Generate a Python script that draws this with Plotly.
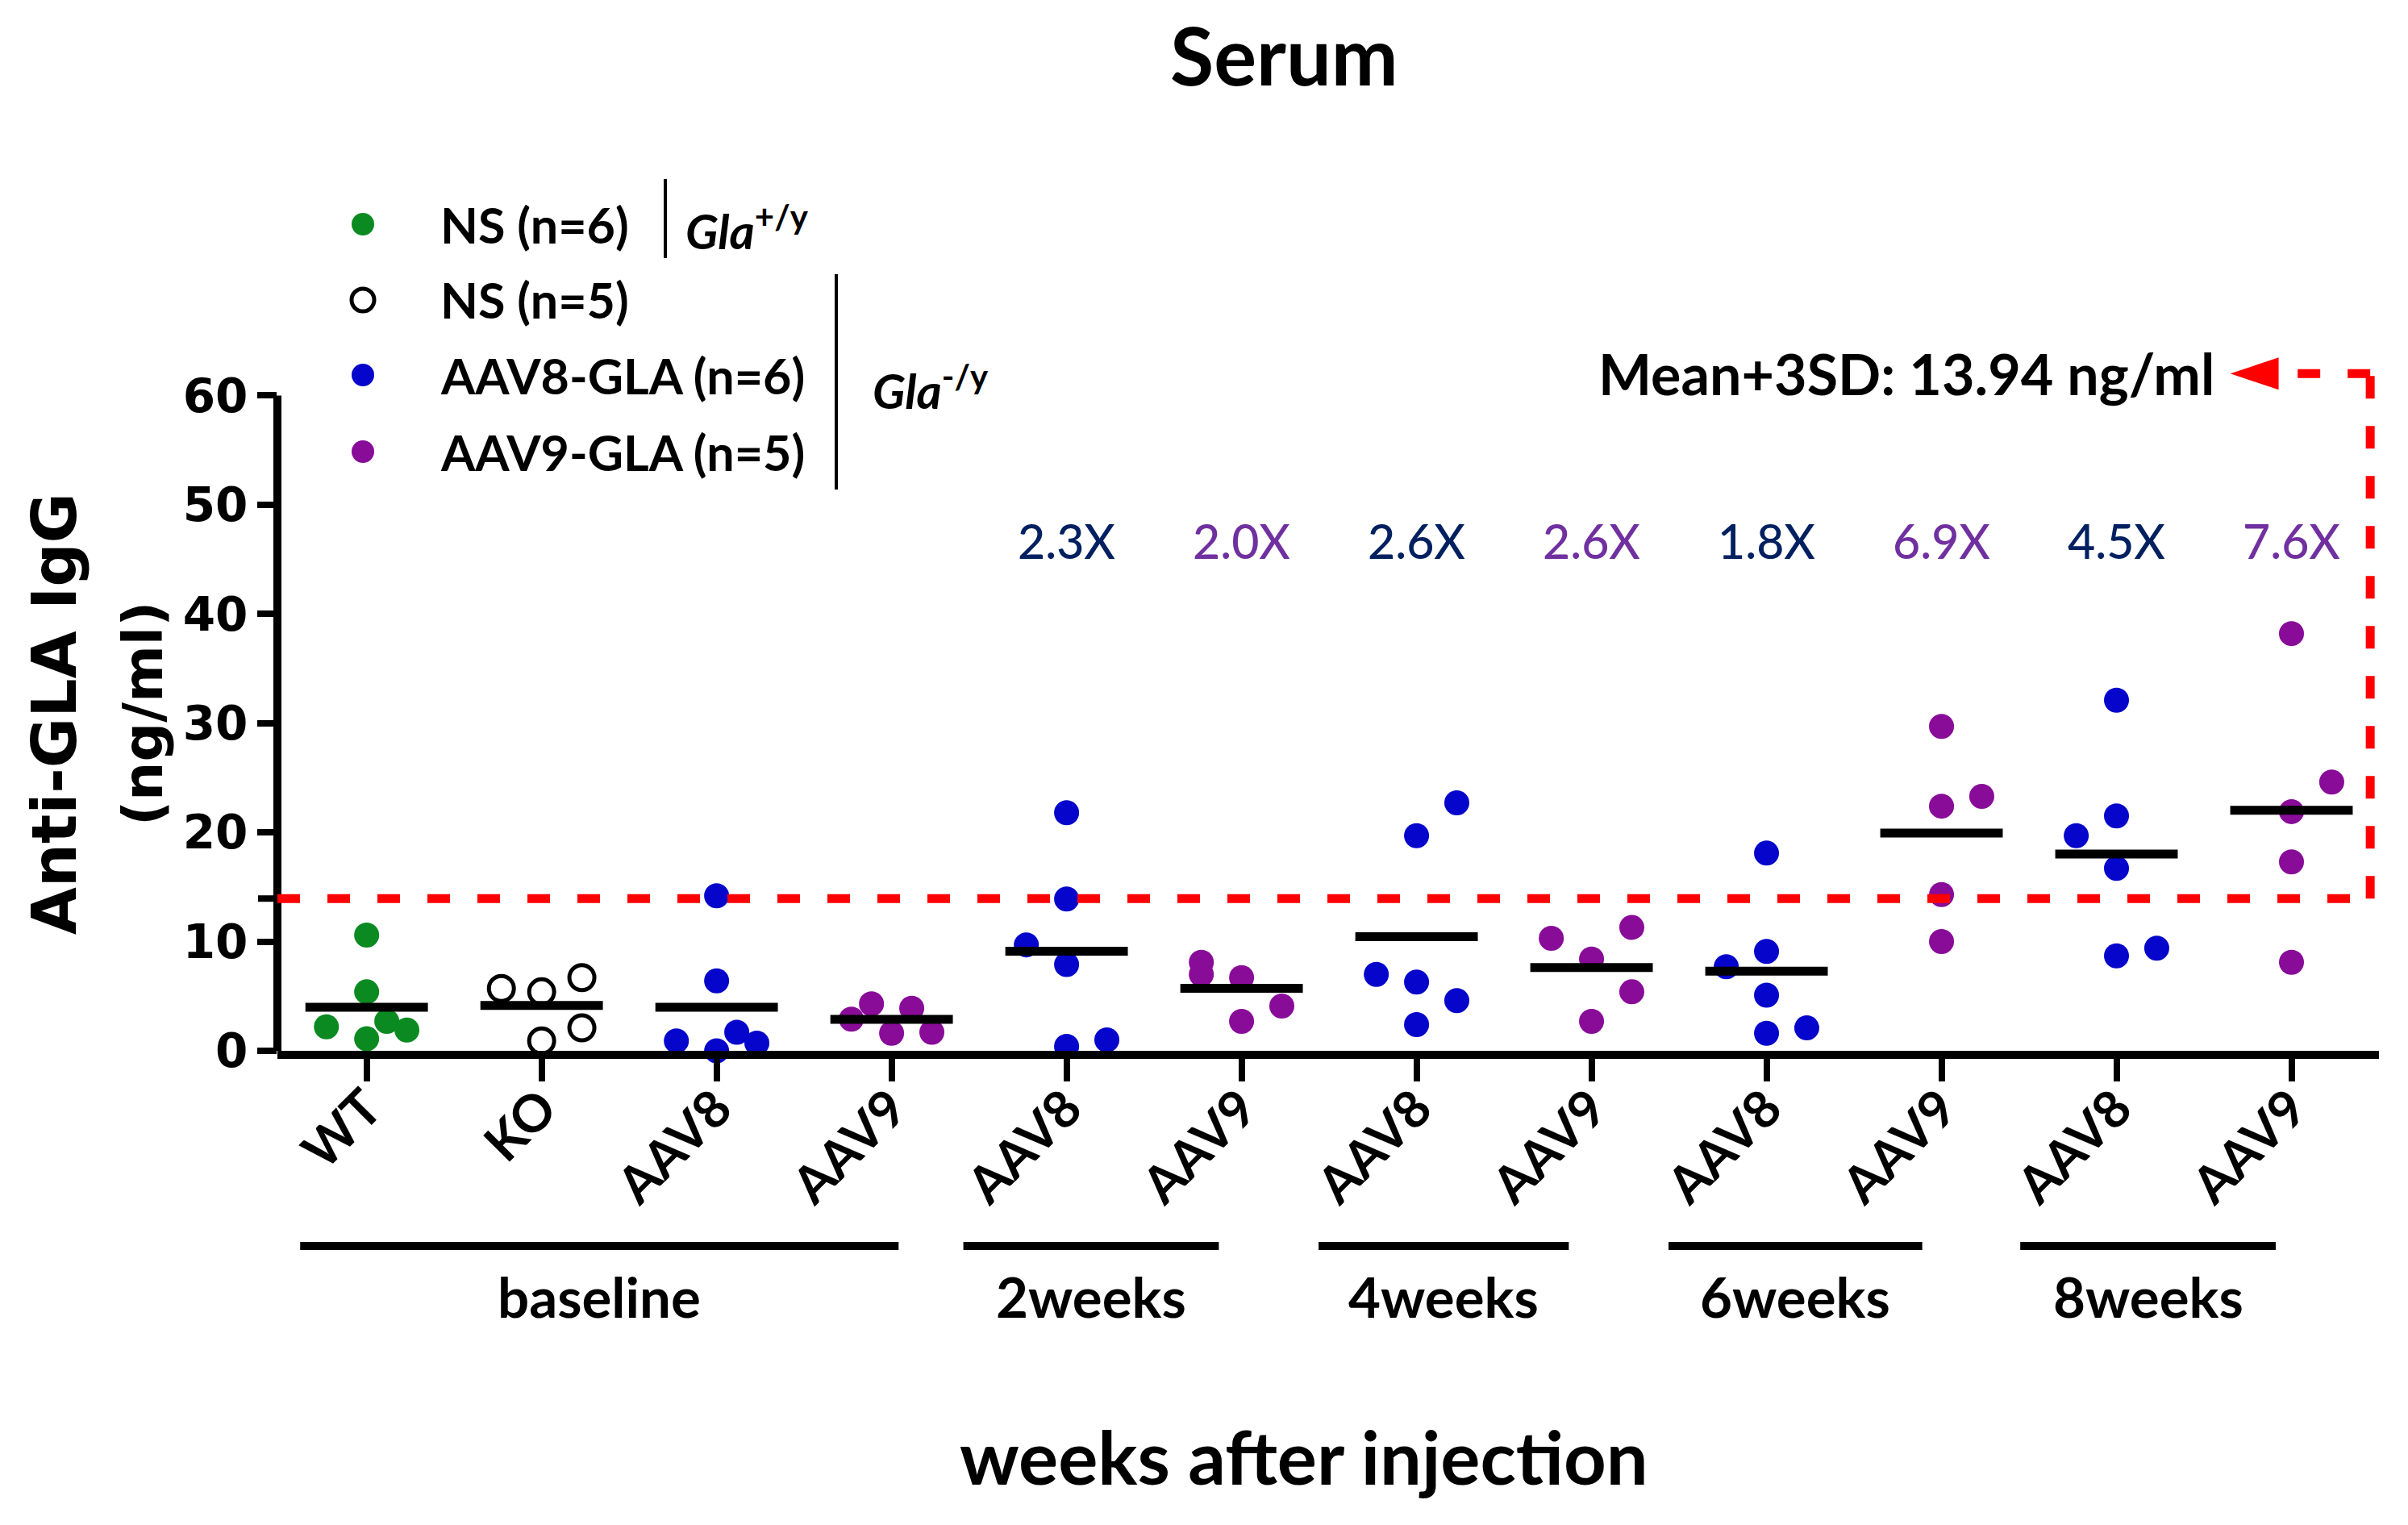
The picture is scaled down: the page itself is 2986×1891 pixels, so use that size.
import numpy as np
import plotly.graph_objects as go

# ---- data ----
categories = ["WT", "KO", "AAV8", "AAV9", "AAV8", "AAV9",
              "AAV8", "AAV9", "AAV8", "AAV9", "AAV8", "AAV9"]
groups = ["baseline", "2weeks", "4weeks", "6weeks", "8weeks"]

wt_ns = [10.6, 5.4, 2.2, 2.7, 1.9, 1.1]
ko_ns = [5.7, 5.4, 6.7, 2.1, 0.9]
aav8_base = [14.2, 6.4, 0.9, 0.0, 1.7, 0.7]
aav9_base = [2.9, 4.3, 1.6, 3.9, 1.7]
aav8_2wk = [21.8, 13.9, 9.7, 7.9, 0.4, 1.0]
aav9_2wk = [8.1, 7.0, 6.7, 2.7, 4.1]
aav8_4wk = [22.7, 19.7, 7.0, 6.3, 4.6, 2.4]
aav9_4wk = [10.3, 11.3, 8.4, 5.4, 2.7]
aav8_6wk = [18.1, 7.7, 9.1, 5.1, 1.6, 2.1]
aav9_6wk = [29.7, 22.4, 23.3, 14.3, 10.0]
aav8_8wk = [32.1, 21.5, 19.7, 16.7, 8.7, 9.4]
aav9_8wk = [38.2, 24.6, 21.9, 17.3, 8.1]

fold_labels = ["2.3X", "2.0X", "2.6X", "2.6X", "1.8X", "6.9X", "4.5X", "7.6X"]
threshold = 13.94

# horizontal scatter of dots inside a column (in dot widths)
wt_off = [0, 0, -1, 0.5, 1, 0]
ko_off = [-1, 0, 1, 1, 0]
aav8_base_off = [0, 0, -1, 0, 0.5, 1]
aav9_base_off = [-1, -0.5, 0, 0.5, 1]
aav8_2wk_off = [0, 0, -1, 0, 0, 1]
aav9_2wk_off = [-1, -1, 0, 0, 1]
aav8_4wk_off = [1, 0, -1, 0, 1, 0]
aav9_4wk_off = [-1, 1, 0, 1, 0]
aav8_6wk_off = [0, -1, 0, 0, 0, 1]
aav9_6wk_off = [0, 0, 1, 0, 0]
aav8_8wk_off = [0, 0, -1, 0, 0, 1]
aav9_8wk_off = [0, 1, 0, 0, 0]

# ---- layout helpers ----
W, H = 2986, 1891
PAGE = 8  # page body margin of the html
ML, MR, MT, MB = 344 - PAGE, 36 + PAGE, 443 - PAGE, 588 + PAGE
XR = [-0.51, 11.5]
YR = [0, 63.5]
DOT = 0.23


def px(x):
    return (x - PAGE - ML) / (W - ML - MR)


def py(y):
    return (H - MB - (y - PAGE)) / (H - MT - MB)


GREEN = "#0c8a22"
BLUE = "#0505cc"
PURPLE = "#880c98"
NAVY = "#002060"
LPURPLE = "#7030a0"
RED = "#ff0000"
TXT = "Lato"
BOLD = "DejaVu Sans"

columns = [
    (wt_ns, wt_off, "wt"), (ko_ns, ko_off, "ko"),
    (aav8_base, aav8_base_off, "aav8"), (aav9_base, aav9_base_off, "aav9"),
    (aav8_2wk, aav8_2wk_off, "aav8"), (aav9_2wk, aav9_2wk_off, "aav9"),
    (aav8_4wk, aav8_4wk_off, "aav8"), (aav9_4wk, aav9_4wk_off, "aav9"),
    (aav8_6wk, aav8_6wk_off, "aav8"), (aav9_6wk, aav9_6wk_off, "aav9"),
    (aav8_8wk, aav8_8wk_off, "aav8"), (aav9_8wk, aav9_8wk_off, "aav9"),
]

styles = {
    "wt": dict(name="NS (n=6) Gla+/y", color=GREEN, line=dict(width=0)),
    "ko": dict(name="NS (n=5) Gla-/y", color="white", line=dict(width=5, color="black")),
    "aav8": dict(name="AAV8-GLA (n=6)", color=BLUE, line=dict(width=0)),
    "aav9": dict(name="AAV9-GLA (n=5)", color=PURPLE, line=dict(width=0)),
}

fig = go.Figure()

for key in ["wt", "ko", "aav8", "aav9"]:
    xs, ys = [], []
    for i, (vals, offs, k) in enumerate(columns):
        if k != key:
            continue
        xs += [i + o * DOT for o in offs]
        ys += vals
    st = styles[key]
    fig.add_trace(go.Scatter(
        x=xs, y=ys, mode="markers", name=st["name"], showlegend=False,
        cliponaxis=False,
        marker=dict(size=31, color=st["color"], line=st["line"]),
    ))

# mean bars
mx, my = [], []
for i, (vals, offs, k) in enumerate(columns):
    m = float(np.mean(vals))
    mx += [i - 0.35, i + 0.35, None]
    my += [m, m, None]
fig.add_trace(go.Scatter(x=mx, y=my, mode="lines", showlegend=False,
                         line=dict(color="black", width=11)))

shapes = []
# y axis line (drawn up to 60 only) and the unlabeled tick at the threshold
shapes.append(dict(type="line", xref="paper", yref="y", x0=0, x1=0, y0=0, y1=60,
                   line=dict(color="black", width=10)))
shapes.append(dict(type="line", xref="paper", yref="y", xsizemode="pixel", xanchor=0,
                   x0=-24, x1=0, y0=threshold, y1=threshold,
                   line=dict(color="black", width=8)))
# Mean+3SD dashed line and its return path
dash = dict(color=RED, width=11, dash="28px,34px")
x_turn = 11.45
shapes.append(dict(type="line", xref="x", yref="y", x0=XR[0], x1=x_turn,
                   y0=threshold, y1=threshold, line=dash))
shapes.append(dict(type="line", xref="x", yref="y", x0=x_turn, x1=x_turn,
                   y0=threshold, y1=62.0, line=dash))
shapes.append(dict(type="line", xref="x", yref="y", x0=x_turn, x1=10.92,
                   y0=62.0, y1=62.0, line=dash))
shapes.append(dict(type="path", xref="x", yref="y", xsizemode="pixel", ysizemode="pixel",
                   xanchor=10.65, yanchor=62.0, path="M 0,0 L 60,-20 L 60,20 Z",
                   fillcolor=RED, line=dict(width=0)))

# group bars under the tick labels
group_spans = [(-0.38, 3.04), (3.41, 4.87), (5.44, 6.87), (7.44, 8.89), (9.45, 10.91)]
bar_y = py(1545)
for a, b in group_spans:
    shapes.append(dict(type="line", xref="x", yref="paper", x0=a, x1=b,
                       y0=bar_y, y1=bar_y, line=dict(color="black", width=10)))

# legend symbols and dividers
legend_rows = [278, 372, 465, 560]
legend_keys = ["wt", "ko", "aav8", "aav9"]
legend_text = ["NS (n=6)", "NS (n=5)", "AAV8-GLA (n=6)", "AAV9-GLA (n=5)"]
for row, key in zip(legend_rows, legend_keys):
    st = styles[key]
    shapes.append(dict(type="circle", xref="paper", yref="paper",
                       xsizemode="pixel", ysizemode="pixel",
                       xanchor=px(450), yanchor=py(row),
                       x0=-14, x1=14, y0=-14, y1=14,
                       fillcolor=st["color"],
                       line=dict(color="black", width=5) if key == "ko" else dict(width=0)))
shapes.append(dict(type="line", xref="paper", yref="paper", x0=px(825), x1=px(825),
                   y0=py(222), y1=py(320), line=dict(color="black", width=4)))
shapes.append(dict(type="line", xref="paper", yref="paper", x0=px(1037), x1=px(1037),
                   y0=py(340), y1=py(607), line=dict(color="black", width=4)))


def label(text, x, y, size, family=TXT, weight=700, color="black",
          xref="paper", yref="paper", xanchor="center", angle=0):
    return dict(text=text, xref=xref, yref=yref, x=x, y=y, xanchor=xanchor,
                yanchor="middle", textangle=angle, showarrow=False,
                font=dict(family=family, size=size, weight=weight, color=color))


ann = []
ann.append(label("Serum", px(1592), py(67), 99))
ann.append(label("Anti-GLA IgG", px(67), py(885), 76, family=BOLD, angle=-90))
ann.append(label("(ng/ml)", px(177), py(885), 68, family=BOLD, angle=-90))
for j, lab in enumerate(fold_labels):
    ann.append(label(lab, 4 + j, 46.7, 59, weight=500,
                     color=NAVY if j % 2 == 0 else LPURPLE, xref="x", yref="y"))
ann.append(label("Mean+3SD: %.2f ng/ml" % threshold, 10.57, 62.0, 70,
                 xref="x", yref="y", xanchor="right"))
for (a, b), g in zip(group_spans, groups):
    ann.append(label(g, (a + b) / 2, py(1607), 69, xref="x"))
ann.append(label("weeks after injection", px(1617), py(1805), 92))
for row, t in zip(legend_rows, legend_text):
    ann.append(label(t, px(544), py(row), 61, xanchor="left"))
ann.append(label("<i>Gla</i><sup>+/y</sup>", px(848), py(282), 60, xanchor="left"))
ann.append(label("<i>Gla</i><sup>-/y</sup>", px(1080), py(480), 60, xanchor="left"))

ytick_vals = [0, 10, 20, 30, 40, 50, 60]

fig.update_layout(
    width=W, height=H,
    margin=dict(l=ML, r=MR, t=MT, b=MB),
    paper_bgcolor="white", plot_bgcolor="white",
    showlegend=False,
    shapes=shapes, annotations=ann,
    xaxis=dict(range=XR, tickmode="array", tickvals=list(range(len(categories))),
               ticktext=categories, tickangle=-45, showgrid=False, zeroline=False,
               showline=True, linecolor="black", linewidth=10,
               ticks="outside", ticklen=28, tickwidth=8, tickcolor="black",
               ticklabelstandoff=-30,
               tickfont=dict(family=TXT, size=64, weight=700, color="black")),
    yaxis=dict(range=YR, tickmode="array", tickvals=ytick_vals,
               showgrid=False, zeroline=False, showline=False,
               ticks="outside", ticklen=24, tickwidth=8, tickcolor="black",
               tickfont=dict(family=BOLD, size=58, weight=700, color="black")),
)

fig.write_html("out.html")
